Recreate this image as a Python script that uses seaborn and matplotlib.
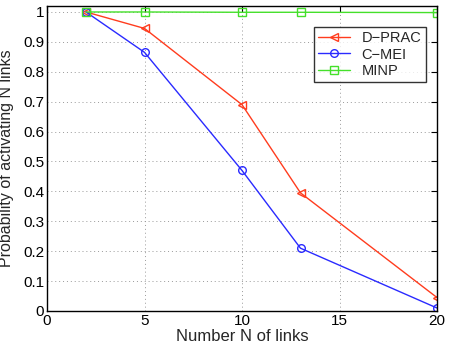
import numpy as np
import pandas as pd
import seaborn as sns
import matplotlib
matplotlib.use("Agg")
import matplotlib.pyplot as plt

# datos
n_links = [2, 5, 10, 13, 20]
d_prac = [1.0, 0.945, 0.69, 0.395, 0.045]
c_mei = [1.0, 0.865, 0.47, 0.21, 0.01]
minp = [1.0, 1.0, 0.999, 0.999, 0.998]
series = ["D\u2212PRAC", "C\u2212MEI", "MINP"]

sns.set_style("white")
plt.rcParams["font.family"] = ["Liberation Sans", "DejaVu Sans"]

fig = plt.figure(figsize=(4.51, 3.51), dpi=100)
ax = fig.add_axes([47 / 451, 1 - 311 / 351, 390 / 451, 305 / 351])

colores = ["#ff3c1e", "#2a2aff", "#44e02a"]
marcadores = ["<", "o", "s"]
for valores, nombre, c, m in zip([d_prac, c_mei, minp], series, colores, marcadores):
    sns.lineplot(x=n_links, y=valores, label=nombre, color=c, marker=m,
                 markersize=5.5, markerfacecolor="none", markeredgecolor=c,
                 markeredgewidth=1.0, linewidth=1.0, ax=ax)

ax.set_xlim(0, 20)
ax.set_ylim(0, 1.02)
ax.set_xticks([0, 5, 10, 15, 20])
ax.set_yticks(np.arange(0, 1.01, 0.1))
ax.set_yticklabels(["0", "0.1", "0.2", "0.3", "0.4", "0.5", "0.6", "0.7", "0.8", "0.9", "1"])
ax.grid(True, linestyle=(0, (1, 3)), color="#999999", linewidth=0.7)
ax.tick_params(direction="in", length=4, labelsize=11, top=True, right=True,
               pad=2, colors="black")
for s in ax.spines.values():
    s.set_color("black")
    s.set_linewidth(1.0)
ax.set_xlabel("Number N of links", fontsize=12, labelpad=1)
# la etiqueta queda algo a la izquierda de los numeros del eje
ax.yaxis.set_label_coords(-0.085, 0.5)
ax.set_ylabel("Probability of activating N links", fontsize=11.5)

leg = ax.legend(loc="upper right", bbox_to_anchor=(0.99, 0.955), fontsize=10.5,
                frameon=True, fancybox=False, edgecolor="black",
                handlelength=2.2, borderpad=0.3, labelspacing=0.15)
leg.get_frame().set_linewidth(1.0)

fig.savefig("out.png", dpi=100)
